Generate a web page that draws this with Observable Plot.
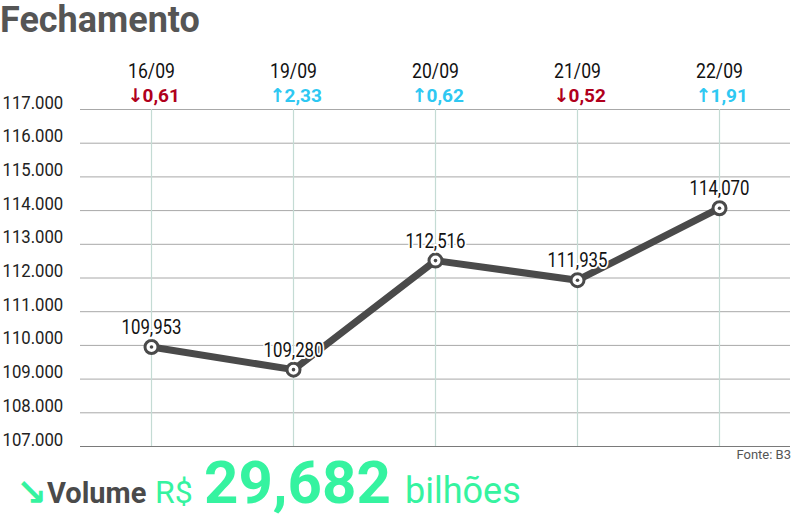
<!DOCTYPE html>
<html>
<head>
<meta charset="utf-8">
<script src="https://cdn.jsdelivr.net/npm/d3@7"></script>
<script src="https://cdn.jsdelivr.net/npm/@observablehq/plot@0.6"></script>
<style>
  html, body { margin: 0; padding: 0; background: #fff; }
  #wrap { position: relative; width: 800px; height: 521px; overflow: hidden; font-family: Roboto, sans-serif; }
  .abs { position: absolute; white-space: nowrap; }
  #title { left: 0; top: 0; font-size: 36px; line-height: 40px; font-weight: 700; color: #555; }
  #chart { position: absolute; left: 0; top: 45px; }
  #source { right: 9px; top: 448px; font-size: 13px; line-height: 13px; color: #555; }
  .green { color: #35f3a0; }
</style>
</head>
<body>
<div id="wrap">
  <div id="title" class="abs">Fechamento</div>
  <div id="chart"></div>
  <div id="source" class="abs">Fonte: B3</div>
  <span class="abs green" style="left:16px; top:474px; font-size:37px; line-height:37px; font-weight:700; font-family:'DejaVu Sans', sans-serif;">↘</span>
  <span class="abs" style="left:47px; top:478.6px; font-size:29px; line-height:29px; font-weight:700; color:#4a4a4a;">Volume</span>
  <span class="abs green" style="left:155px; top:476px; font-size:32px; line-height:32px;">R$</span>
  <span class="abs green" style="left:204px; top:452.5px; font-size:60px; line-height:60px; font-weight:700;">29,682</span>
  <span class="abs green" style="left:405px; top:472.7px; font-size:36px; line-height:36px;">bilhões</span>
</div>
<script>
const dates = ["16/09", "19/09", "20/09", "21/09", "22/09"];
const closes = [109953, 109280, 112516, 111935, 114070];
const closeLabels = ["109,953", "109,280", "112,516", "111,935", "114,070"];
const changes = [-0.61, 2.33, 0.62, -0.52, 1.91];
const yTicks = [107000, 108000, 109000, 110000, 111000, 112000, 113000, 114000, 115000, 116000, 117000];

const data = dates.map((d, i) => ({
  date: d,
  close: closes[i],
  label: closeLabels[i],
  change: changes[i]
}));

const fmtTick = v => d3.format(",")(v).replace(/,/g, ".");
const fmtChange = c => Math.abs(c).toFixed(2).replace(".", ",");
const upColor = "#2ec8f2";
const downColor = "#b0001c";
const lineColor = "#4a4a4a";
const changeColor = d => d.change < 0 ? downColor : upColor;

const chart = Plot.plot({
  width: 800,
  height: 420,
  marginTop: 64,
  marginBottom: 19,
  marginLeft: 80,
  marginRight: 10,
  style: { fontFamily: "Roboto, sans-serif", background: "transparent", overflow: "visible" },
  x: { type: "point", domain: dates, padding: 0.5, axis: null },
  y: { domain: [107000, 117000], axis: null },
  color: { type: "identity" },
  marks: [
    Plot.ruleY(yTicks, { stroke: "#a8a8a8", strokeWidth: 1 }),
    Plot.ruleX(dates, { stroke: "#c4dbd4", strokeWidth: 1.2 }),
    Plot.ruleY([107000], { stroke: "#7a7a7a", strokeWidth: 1.2 }),
    Plot.text(yTicks, {
      y: d => d, text: fmtTick, frameAnchor: "left", textAnchor: "start",
      dx: -78, dy: -1, lineAnchor: "bottom", fontSize: 19, fill: "#222"
    }),
    Plot.line(data, { x: "date", y: "close", stroke: lineColor, strokeWidth: 7 }),
    Plot.dot(data, { x: "date", y: "close", r: 6.5, fill: "white", stroke: lineColor, strokeWidth: 3 }),
    Plot.dot(data, { x: "date", y: "close", r: 1.8, fill: lineColor }),
    Plot.text(data, {
      x: "date", y: "close", text: "label", dy: -13, lineAnchor: "bottom",
      fontSize: 21, fill: "#111", stroke: "white", strokeWidth: 4
    }),
    Plot.text(data, {
      x: "date", text: "date", frameAnchor: "top", lineAnchor: "bottom",
      dy: -32, fontSize: 20, fill: "#111"
    }),
    Plot.text(data, {
      x: "date", text: d => d.change < 0 ? "↓" : "↑", frameAnchor: "top", lineAnchor: "bottom",
      dx: -8, dy: -8, fontSize: 19, fontWeight: "bold", textAnchor: "end",
      fontFamily: "'DejaVu Sans', sans-serif", fill: changeColor
    }),
    Plot.text(data, {
      x: "date", text: d => fmtChange(d.change), frameAnchor: "top", lineAnchor: "bottom",
      dx: -9, dy: -8, fontSize: 19, fontWeight: "bold", textAnchor: "start",
      fill: changeColor
    })
  ]
});

// horizontally condense some texts (the reference uses a condensed face),
// scaling each text about its own anchor point
const condenseBy = new Map();
yTicks.forEach(v => condenseBy.set(fmtTick(v), 0.88));
closeLabels.forEach(s => condenseBy.set(s, 0.8));
dates.forEach(s => condenseBy.set(s, 0.88));
d3.select(chart).selectAll("text").each(function () {
  const k = condenseBy.get(this.textContent.trim());
  if (k === undefined) return;
  const x0 = parseFloat(this.getAttribute("x")) || 0;
  const t = this.getAttribute("transform") || "";
  this.setAttribute("transform", `${t} translate(${x0},0) scale(${k},1) translate(${-x0},0)`);
});

document.getElementById("chart").appendChild(chart);
</script>
</body>
</html>
